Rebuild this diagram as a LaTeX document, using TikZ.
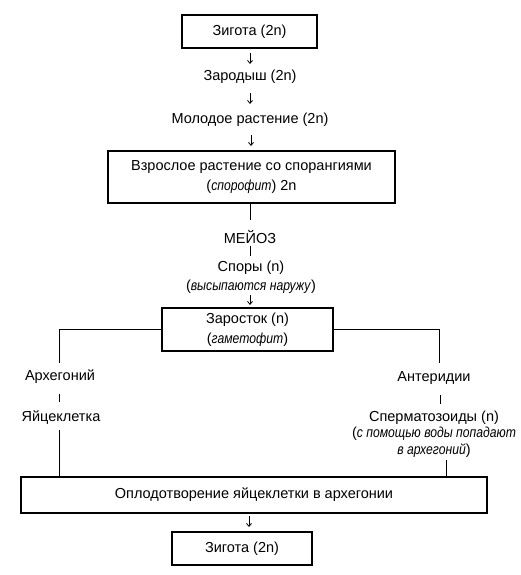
\documentclass[tikz,border=0pt]{standalone}
\usepackage{fontspec}
\setmainfont{Liberation Sans}[ItalicFeatures={FakeStretch=0.84}]
\usetikzlibrary{arrows.meta}
\begin{document}
\begin{tikzpicture}[x=1pt,y=-1pt,
  box/.style={draw, line width=1.7pt, inner sep=0pt, align=center},
  txt/.style={inner sep=0pt, align=center},
  ln/.style={line width=0.8pt},
  arr/.style={line width=0.8pt, -{Straight Barb[length=3pt,width=5pt]}}]
\useasboundingbox (0,0) rectangle (521,575);
\tikzset{every node/.style={font=\fontsize{14.5}{19.5}\selectfont}}
% boxes and texts
\node[box, minimum width=135pt, minimum height=33pt] (z1) at (249.5,31.5) {Зигота (2n)};
\node[txt] (zar) at (250,77) {Зародыш (2n)};
\node[txt] (mol) at (250,120) {Молодое растение (2n)};
\node[box, minimum width=287pt, minimum height=52pt] (vzr) at (251.5,177) {Взрослое растение со спорангиями\\(\textit{спорофит}) 2n};
\node[txt] (mei) at (250,237) {МЕЙОЗ};
\node[txt] (spo) at (251,277) {Споры (n)\\(\textit{высыпаются наружу})};
\node[box, minimum width=171pt, minimum height=43pt] (zar2) at (247.5,329.5) {Заросток (n)\\(\textit{гаметофит})};
\node[txt] (arh) at (60,377) {Архегоний};
\node[txt] (yai) at (61,418) {Яйцеклетка};
\node[txt] (ant) at (434,378) {Антеридии};
\node[txt, font=\fontsize{14.5}{16.5}\selectfont] (spe) at (434,434) {Сперматозоиды (n)\\(\textit{с помощью воды попадают}\\\textit{в архегоний})};
\node[box, minimum width=466pt, minimum height=36pt] (opl) at (254,495) {Оплодотворение яйцеклетки в архегонии};
\node[box, minimum width=140pt, minimum height=33pt] (z2) at (242,548.5) {Зигота (2n)};
% connectors
\coordinate (a1) at (250,53); \coordinate (a2) at (250,64);
\draw[arr] (a1) -- (a2);
\coordinate (b1) at (250,93); \coordinate (b2) at (250,104);
\draw[arr] (b1) -- (b2);
\coordinate (c1) at (251,135); \coordinate (c2) at (251,146);
\draw[arr] (c1) -- (c2);
\coordinate (d1) at (250,220);
\draw[ln] (vzr.south -| d1) -- (d1);
\coordinate (e1) at (250,246); \coordinate (e2) at (250,256);
\draw[ln] (e1) -- (e2);
\coordinate (f1) at (250,295); \coordinate (f2) at (250,305);
\draw[arr] (f1) -- (f2);
\coordinate (g1) at (59,363);
\draw[ln] (zar2.west) -- (zar2.west -| g1) -- (g1);
\coordinate (h1) at (439,363);
\draw[ln] (zar2.east) -- (zar2.east -| h1) -- (h1);
\coordinate (i1) at (59,394); \coordinate (i2) at (59,402);
\draw[ln] (i1) -- (i2);
\coordinate (j1) at (440,395); \coordinate (j2) at (440,404);
\draw[ln] (j1) -- (j2);
\coordinate (k1) at (59,430);
\draw[ln] (k1) -- (opl.north -| k1);
\coordinate (l1) at (446,460);
\draw[ln] (l1) -- (opl.north -| l1);
\coordinate (m1) at (249,516); \coordinate (m2) at (249,527);
\draw[arr] (m1) -- (m2);
\end{tikzpicture}
\end{document}
